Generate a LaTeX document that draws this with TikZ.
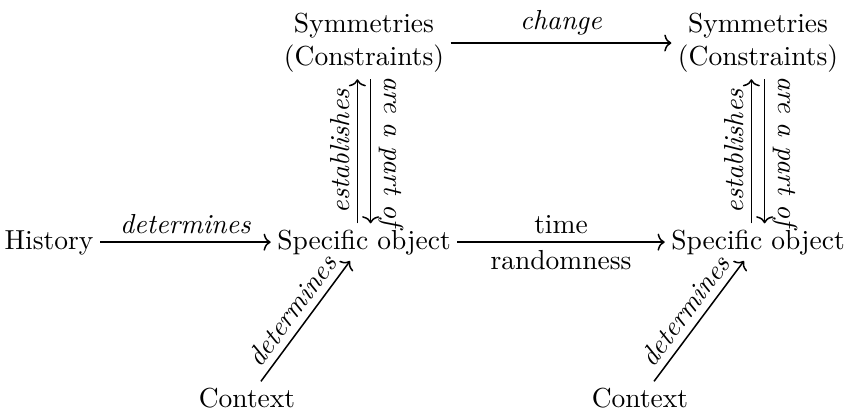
\documentclass[tikz,border=0pt]{standalone}
\usetikzlibrary{arrows.meta}
\begin{document}
\begin{tikzpicture}[x=0.3636pt,y=-0.3636pt,
  obj/.style={inner sep=2.4pt, outer sep=0pt, text height=6.94pt, text depth=1.94pt},
  twoline/.style={inner sep=2.4pt, outer sep=0pt, align=center},
  arr/.style={-{To[length=2.6pt,width=6.2pt]}, line width=0.55pt},
  lab/.style={font=\itshape, inner sep=2.6pt},
  labup/.style={inner sep=2.6pt}]
\useasboundingbox (0,0) rectangle (852,413);
% objects
\node[obj, anchor=base] (hist) at (49,249) {History};
\node[obj, anchor=base] (spec1) at (364,249) {Specific object};
\node[obj, anchor=base] (spec2) at (758,249) {Specific object};
\node[twoline] (sym1) at (364,43) {Symmetries\\(Constraints)};
\node[twoline] (sym2) at (758,43) {Symmetries\\(Constraints)};
\node[obj, anchor=base] (ctx1) at (247,407) {Context};
\node[obj, anchor=base] (ctx2) at (640,407) {Context};
% horizontal connectors
\draw[arr] (hist) -- node[lab, above] {determines} (spec1);
\draw[arr] (spec1) -- node[labup, above] {time} node[labup, below] {randomness} (spec2);
\draw[arr] (sym1) -- node[lab, above] {change} (sym2);
% vertical pairs
\draw[arr] ([xshift=-2.4pt]spec1.north) -- node[lab, midway, rotate=90, anchor=south] {establishes} ([xshift=-2.4pt]sym1.south);
\draw[arr] ([xshift=2.4pt]sym1.south) -- node[lab, midway, rotate=-90, anchor=south] {are a part of} ([xshift=2.4pt]spec1.north);
\draw[arr] ([xshift=-2.4pt]spec2.north) -- node[lab, midway, rotate=90, anchor=south] {establishes} ([xshift=-2.4pt]sym2.south);
\draw[arr] ([xshift=2.4pt]sym2.south) -- node[lab, midway, rotate=-90, anchor=south] {are a part of} ([xshift=2.4pt]spec2.north);
% diagonals
\draw[arr] (ctx1) -- node[lab, midway, sloped, above] {determines} (spec1);
\draw[arr] (ctx2) -- node[lab, midway, sloped, above] {determines} (spec2);
\end{tikzpicture}
\end{document}
